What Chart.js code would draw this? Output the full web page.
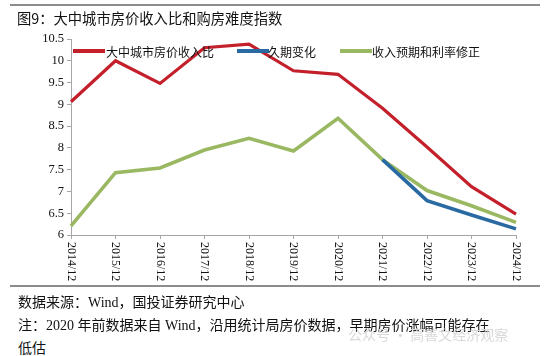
<!DOCTYPE html>
<html>
<head>
<meta charset="utf-8">
<script src="https://cdn.jsdelivr.net/npm/chart.js@4.4.1/dist/chart.umd.min.js"></script>
<style>
  html,body{margin:0;padding:0;background:#fff;}
  #wrap{position:relative;width:550px;height:356px;overflow:hidden;background:#fff;}
  #c{position:absolute;left:0;top:0;}
  .rule{position:absolute;left:10px;width:530px;height:2px;background:#8c8c8c;}
  .txt{position:absolute;font-family:"Liberation Serif","Noto Sans CJK SC",serif;color:#111;white-space:nowrap;}
</style>
</head>
<body>
<div id="wrap">
  <canvas id="c" width="550" height="290"></canvas>
  <div class="rule" style="top:4px;"></div>
  <div class="txt" style="left:17px;top:7px;font-size:14.3px;font-family:'Noto Sans CJK SC',sans-serif;">图9：大中城市房价收入比和购房难度指数</div>
  <div class="rule" style="top:285px;"></div>
  <div class="txt" style="left:18px;top:291px;font-size:14px;">数据来源：Wind，国投证券研究中心</div>
  <div class="txt" style="left:18px;top:314px;font-size:14px;">注：2020 年前数据来自 Wind，沿用统计局房价数据，早期房价涨幅可能存在</div>
  <div class="txt" style="left:18px;top:337px;font-size:14px;">低估</div>
  <div class="txt" style="left:348px;top:324px;font-size:14px;color:#d8d8d8;font-family:'Noto Sans CJK SC',sans-serif;">公众号 · 高善文经济观察</div>
</div>
<script>
const categories = ["2014/12","2015/12","2016/12","2017/12","2018/12","2019/12","2020/12","2021/12","2022/12","2023/12","2024/12"];
const priceIncomeRatio = [9.06, 10.0, 9.48, 10.3, 10.38, 9.77, 9.69, 8.91, 8.02, 7.11, 6.48];
const durationChange   = [null, null, null, null, null, null, null, 7.73, 6.79, 6.46, 6.14];
const incomeRateAdj    = [6.21, 7.43, 7.54, 7.95, 8.22, 7.93, 8.68, 7.73, 7.02, 6.67, 6.29];
const seriesNames = ["大中城市房价收入比","久期变化","收入预期和利率修正"];
const yTicks = {min: 6, max: 10.5, step: 0.5};

const axisColor = "#a6a6a6";

const insideLegend = {
  id: "insideLegend",
  afterDatasetsDraw(chart) {
    const ctx = chart.ctx;
    const pos = [[73,106],[237,268],[340,372]];
    const y = 51;
    ctx.save();
    chart.data.datasets.forEach((ds, i) => {
      const [sx, tx] = pos[i];
      ctx.strokeStyle = ds.borderColor;
      ctx.lineWidth = 4;
      ctx.beginPath();
      ctx.moveTo(sx, y);
      ctx.lineTo(sx + 32, y);
      ctx.stroke();
      ctx.fillStyle = "#111";
      ctx.font = "12px 'Noto Sans CJK SC', sans-serif";
      ctx.textBaseline = "middle";
      ctx.textAlign = "left";
      ctx.fillText(ds.label, tx, y + 1);
    });
    ctx.restore();
  }
};

const verticalXLabels = {
  id: "verticalXLabels",
  afterDraw(chart) {
    const ctx = chart.ctx;
    const xs = chart.scales.x;
    ctx.save();
    ctx.fillStyle = "#111";
    ctx.font = "12px 'Liberation Serif', serif";
    ctx.textBaseline = "middle";
    ctx.textAlign = "left";
    chart.data.labels.forEach((lab, i) => {
      const x = xs.getPixelForValue(i);
      ctx.save();
      ctx.translate(x, xs.top + 7);
      ctx.rotate(Math.PI / 2);
      ctx.fillText(lab, 0, 0);
      ctx.restore();
    });
    ctx.restore();
  }
};

new Chart(document.getElementById("c"), {
  type: "line",
  data: {
    labels: categories,
    datasets: [
      {label: seriesNames[0], data: priceIncomeRatio, borderColor: "#c3202b", borderWidth: 3.2},
      {label: seriesNames[1], data: durationChange, borderColor: "#2a6aa3", borderWidth: 3.6},
      {label: seriesNames[2], data: incomeRateAdj, borderColor: "#9ab862", borderWidth: 3.6}
    ]
  },
  options: {
    responsive: false,
    animation: false,
    devicePixelRatio: 1,
    layout: {padding: {left: 0, right: 34, top: 39, bottom: 0}},
    elements: {point: {radius: 0}, line: {tension: 0, borderCapStyle: "butt", borderJoinStyle: "miter"}},
    plugins: {legend: {display: false}, tooltip: {enabled: false}, title: {display: false}},
    scales: {
      x: {
        type: "category",
        offset: false,
        afterFit(s) { s.height = 55; },
        border: {color: axisColor, width: 1},
        grid: {drawOnChartArea: false, drawTicks: true, tickLength: 4, color: axisColor, offset: false},
        ticks: {display: false, autoSkip: false}
      },
      y: {
        min: yTicks.min, max: yTicks.max,
        afterFit(s) { s.width = 71; },
        border: {color: axisColor, width: 1},
        grid: {drawOnChartArea: false, drawTicks: true, tickLength: 4, color: axisColor},
        ticks: {stepSize: yTicks.step, padding: 3, color: "#111", font: {family: "'Liberation Serif', serif", size: 12.5},
                callback: v => String(Math.round(v * 10) / 10)}
      }
    }
  },
  plugins: [insideLegend, verticalXLabels]
});
</script>
</body>
</html>
